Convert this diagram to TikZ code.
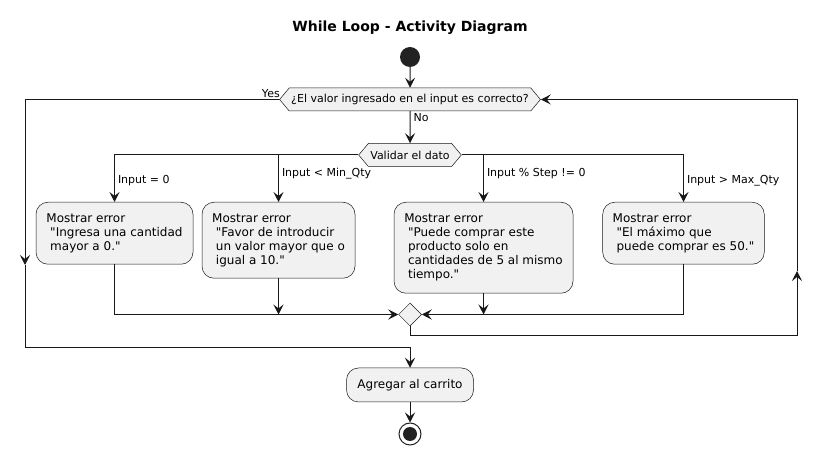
\documentclass[tikz,border=0pt]{standalone}
\usepackage{fontspec}
\setmainfont{DejaVu Sans}[Ligatures=TeXOff]
\usetikzlibrary{arrows.meta,shapes.geometric,shapes.symbols}
\definecolor{boxfill}{HTML}{F1F1F1}
\definecolor{boxline}{HTML}{181818}
\definecolor{dotfill}{HTML}{222222}
\newcommand{\ind}{\hspace*{3.8pt}}

\begin{document}
\begin{tikzpicture}[x=1pt,y=-1pt]
  \tikzset{action/.style = {rectangle,rounded corners=12pt,draw=boxline,fill=boxfill,line width=0.5pt,align=left,font=\fontsize{12}{14}\selectfont,inner xsep=10pt,inner ysep=10pt,anchor=north}}
  \tikzset{choice/.style = {signal,signal to=west and east,signal pointer angle=100,draw=boxline,fill=boxfill,line width=0.5pt,font=\fontsize{11}{13}\selectfont,minimum height=23pt,inner xsep=2pt,inner ysep=0pt}}
  \tikzset{merger/.style = {diamond,draw=boxline,fill=boxfill,line width=0.5pt,minimum size=23pt,inner sep=0pt}}
  \tikzset{flow/.style = {draw=boxline,line width=1pt,-{Stealth[length=10pt,width=10pt,inset=4pt]}}}
  \tikzset{guard/.style = {font=\fontsize{11}{13}\selectfont,inner sep=1pt}}
  \useasboundingbox (0,0) rectangle (820,454);

	\node[font=\bfseries\fontsize{14}{17}\selectfont] (title) at (410,28) {While Loop - Activity Diagram};
	\node[circle,fill=dotfill,minimum size=20pt,inner sep=0pt] (start) at (410,57) {};
	\node[choice] (loop) at (410,99.5) {¿El valor ingresado en el input es correcto?};
	\node[choice] (check) at (410,155) {Validar el dato};
	\node[action,minimum width=157pt,minimum height=62pt] (box1) at (114.5,202) {Mostrar error\\\ind"Ingresa una cantidad\\\ind mayor a 0."};
	\node[action,minimum width=153pt,minimum height=76pt] (box2) at (278.5,202) {Mostrar error\\\ind"Favor de introducir\\\ind un valor mayor que o\\\ind igual a 10."};
	\node[action,minimum width=179pt,minimum height=91pt] (box3) at (483.5,202) {Mostrar error\\\ind"Puede comprar este\\\ind producto solo en\\\ind cantidades de 5 al mismo\\\ind tiempo."};
	\node[action,minimum width=161pt,minimum height=62pt] (box4) at (683.5,202) {Mostrar error\\\ind"El máximo que\\\ind puede comprar es 50."};
	\node[merger] (merge) at (410,314.5) {};
	\node[action,anchor=center,minimum width=127pt,minimum height=34pt] (add) at (410,385) {Agregar al carrito};
	\node[circle,draw=dotfill,line width=1pt,minimum size=22pt,inner sep=0pt,
	  path picture={\fill[dotfill] (path picture bounding box.center) circle (7pt);}] (stop) at (410,434) {};

	\coordinate (yesM) at (25,265);
	\coordinate (joinB) at (410,348);
	\coordinate (backB) at (797,336);
	\coordinate (backM) at (797,271);

    \draw[flow] (start) -- (loop);
    \draw[flow] (loop) -- node[guard,anchor=west,pos=0.2,xshift=2pt] {No} (check);
    \draw[flow] (loop) -| node[guard,anchor=south east,pos=0,xshift=2pt] {Yes} (yesM);
    \draw[flow] (yesM) |- (joinB) -- (add);
    \draw[flow] (add) -- (stop);

    \foreach \side/\act/\pos/\lbl in {west/box1/0.77/{Input = 0},west/box2/0.70/{Input < Min\_Qty},east/box3/0.70/{Input \% Step != 0},east/box4/0.77/{Input > Max\_Qty}}
    \draw[flow] (check.\side) -| node[guard,anchor=west,pos=\pos,xshift=2pt] {\lbl} (\act);

    \draw[flow] (box1) |- (merge);
    \draw[flow] (box4) |- (merge);
    \foreach \act in {box2,box3}
    \draw[flow] (\act.south) -- (\act.south |- merge.center);

    \draw[flow] (merge) |- (backB) -- (backM);
    \draw[flow] (backM) |- (loop);
\end{tikzpicture}
\end{document}
